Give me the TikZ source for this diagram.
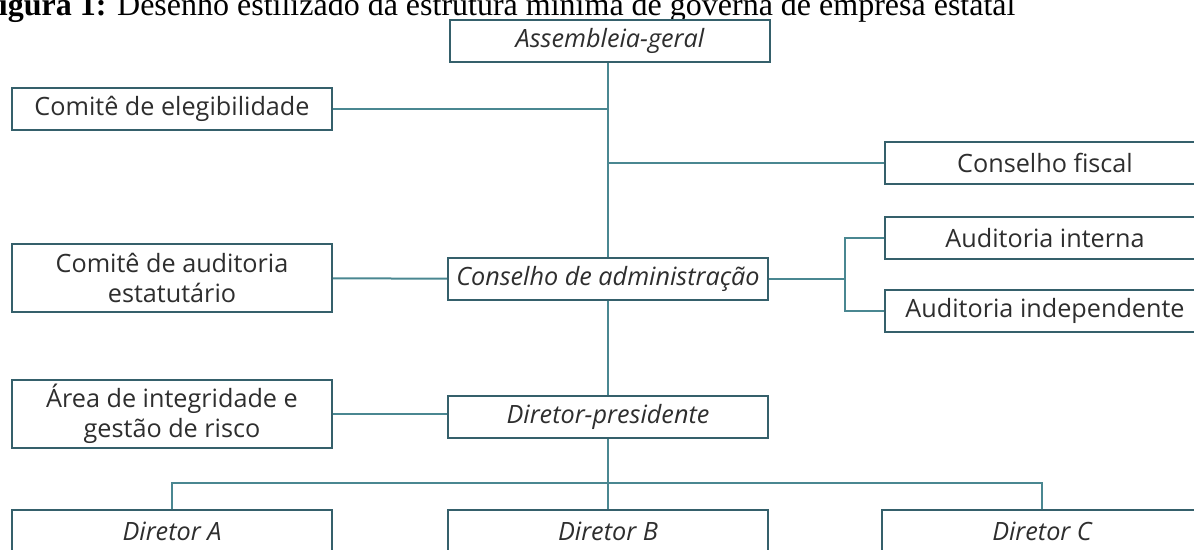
\documentclass[tikz,border=0pt]{standalone}
\usepackage{fontspec}
\setmainfont{Open Sans}
\newfontfamily\titlefont{Liberation Serif}
\definecolor{boxline}{HTML}{35606B}
\definecolor{conline}{HTML}{4A8791}
\definecolor{boxtext}{HTML}{2E2E2E}
\tikzstyle{orgbox}=[shape=rectangle, draw=boxline, line width=1.2pt, fill=white, text=boxtext, minimum width=160pt, minimum height=21pt, inner sep=0, align=center, font=\fontsize{12.6}{15}\selectfont]
\tikzstyle{tallbox}=[orgbox, minimum height=34pt]
\tikzstyle{conn}=[draw=conline, line width=1pt]

\begin{document}
\begin{tikzpicture}[x=0.5pt, y=-0.5pt]
\useasboundingbox (0,0) rectangle (1194,550);
\clip (0,0) rectangle (1194,550);
\node (titulo) at (-21,16) [anchor=base west, inner sep=0, font=\titlefont\fontsize{16}{18}\selectfont] {\textbf{Figura 1:} Desenho estilizado da estrutura mínima de governa de empresa estatal};
\node (asm) at (610,41) [orgbox] {\itshape Assembleia-geral};
\node (eleg) at (172,109) [orgbox] {Comitê de elegibilidade};
\node (fiscal) at (1045,163) [orgbox] {Conselho fiscal};
\node (cae) at (172,278) [tallbox] {Comitê de auditoria\\estatutário};
\node (cadm) at (608,279) [orgbox] {\itshape Conselho de administração};
\node (audint) at (1045,238) [orgbox] {Auditoria interna};
\node (audind) at (1045,311) [orgbox] {Auditoria independente};
\node (area) at (172,414) [tallbox] {Área de integridade e\\gestão de risco};
\node (dp) at (608,417) [orgbox] {\itshape Diretor-presidente};
\node (dira) at (172,531) [orgbox] {\itshape Diretor A};
\node (dirb) at (608,531) [orgbox] {\itshape Diretor B};
\node (dirc) at (1042,531) [orgbox] {\itshape Diretor C};
\coordinate (brk) at (845,279);
\coordinate (bus) at (607,483);
\draw[conn] (asm.south -| cadm) -- (cadm);
\draw[conn] (eleg) -- (eleg -| cadm);
\draw[conn] (fiscal) -- (fiscal -| cadm);
\draw[conn] (cae) -- (cadm);
\draw[conn] (cadm) -- (brk);
\draw[conn] (audint.west) -| (brk) |- (audind.west);
\draw[conn] (cadm) -- (dp);
\draw[conn] (area) -- (area -| dp.west);
\draw[conn] (dp) -- (dirb);
\draw[conn] (dira.north) |- (bus) -| (dirc.north);
\end{tikzpicture}
\end{document}
